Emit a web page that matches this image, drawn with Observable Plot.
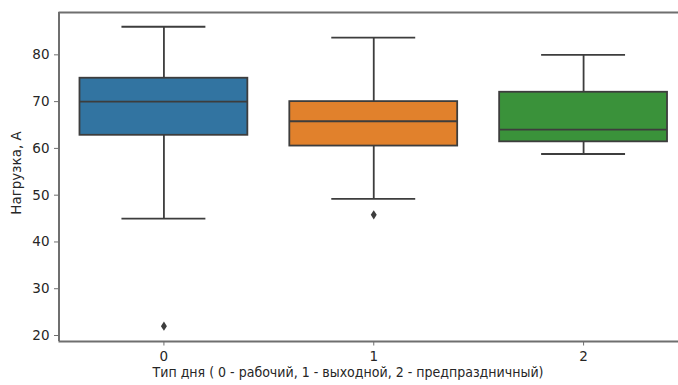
<!DOCTYPE html>
<html>
<head>
<meta charset="utf-8">
<script src="https://cdn.jsdelivr.net/npm/d3@7"></script>
<script src="https://cdn.jsdelivr.net/npm/@observablehq/plot@0.6"></script>
<style>
  html, body { margin: 0; padding: 0; background: #fff; overflow: hidden; }
  #chart { width: 678px; height: 385px; overflow: hidden; }
  #chart svg { max-width: none !important; }
</style>
</head>
<body>
<div id="chart"></div>
<script>
// Data (box plot statistics per day type)
const categories = [0, 1, 2];
const whiskerLow  = [45, 49.2, 58.8];
const q1          = [62.8, 60.5, 61.4];
const medians     = [70, 65.8, 64];
const q3          = [75, 70, 72];
const whiskerHigh = [86, 83.7, 80];
const outlierCat  = [0, 1];
const outlierVal  = [22, 45.8];
const colors      = ["#3274a1", "#e1812c", "#3a923a"];
const yTicks      = [20, 30, 40, 50, 60, 70, 80];
const xLabel = "Тип дня ( 0 - рабочий, 1 - выходной, 2 - предпраздничный)";
const yLabel = "Нагрузка, А";

const boxes = categories.map((c, i) => ({
  c, lo: whiskerLow[i], q1: q1[i], med: medians[i], q3: q3[i], hi: whiskerHigh[i], color: colors[i]
}));
const outliers = outlierCat.map((c, i) => ({ c, v: outlierVal[i] }));

const thinDiamond = {
  draw(context, size) {
    const r = Math.sqrt(size) / 2;
    context.moveTo(0, -r * 1.25);
    context.lineTo(r * 0.8, 0);
    context.lineTo(0, r * 1.25);
    context.lineTo(-r * 0.8, 0);
    context.closePath();
  }
};

const line = "#3d3d3d";
const frame = "#6f6f6f";

const chart = Plot.plot({
  width: 690,
  height: 385,
  marginLeft: 58.5,
  marginRight: 2,
  marginTop: 12,
  marginBottom: 44,
  style: { fontFamily: "DejaVu Sans", fontSize: "13.5px", color: "#262626", background: "#fff", maxWidth: "none" },
  x: { type: "linear", domain: [-0.5, 2.5] },
  y: { domain: [18.72, 89.05] },
  marks: [
    // whiskers
    Plot.ruleX(boxes, { x: "c", y1: "lo", y2: "q1", stroke: line, strokeWidth: 1.8 }),
    Plot.ruleX(boxes, { x: "c", y1: "q3", y2: "hi", stroke: line, strokeWidth: 1.8 }),
    // caps
    Plot.ruleY(boxes, { y: "lo", x1: d => d.c - 0.2, x2: d => d.c + 0.2, stroke: line, strokeWidth: 1.8 }),
    Plot.ruleY(boxes, { y: "hi", x1: d => d.c - 0.2, x2: d => d.c + 0.2, stroke: line, strokeWidth: 1.8 }),
    // boxes
    Plot.rect(boxes, { x1: d => d.c - 0.4, x2: d => d.c + 0.4, y1: "q1", y2: "q3",
                       fill: "color", stroke: line, strokeWidth: 1.8 }),
    // medians
    Plot.ruleY(boxes, { y: "med", x1: d => d.c - 0.4, x2: d => d.c + 0.4, stroke: line, strokeWidth: 1.8 }),
    // outliers
    Plot.dot(outliers, { x: "c", y: "v", symbol: thinDiamond, r: 4.2, fill: line, stroke: "none" }),
    // frame
    Plot.ruleX([-0.5], { stroke: frame, strokeWidth: 2 }),
    Plot.ruleY([18.72, 89.05], { stroke: frame, strokeWidth: 2 }),
    Plot.axisX({ ticks: categories, tickFormat: d => String(d), tickSize: 4.5, tickPadding: 5,
                 label: null, stroke: frame }),
    Plot.axisY({ ticks: yTicks, tickSize: 4.5, tickPadding: 5, label: null, stroke: frame }),
    // axis titles
    Plot.text([xLabel], { frameAnchor: "bottom", dx: -25.75, dy: 31, lineAnchor: "middle",
                          fill: "#262626", fontSize: 13.5 }),
    Plot.text([yLabel], { frameAnchor: "left", rotate: -90, dx: -42.5, dy: -4, lineAnchor: "middle",
                          textAnchor: "middle", fill: "#262626", fontSize: 13.5 })
  ]
});
chart.querySelectorAll("text").forEach(t => {
  if (t.textContent === xLabel) {
    t.setAttribute("textLength", 391);
    t.setAttribute("lengthAdjust", "spacingAndGlyphs");
  }
});
document.getElementById("chart").appendChild(chart);
</script>
</body>
</html>
